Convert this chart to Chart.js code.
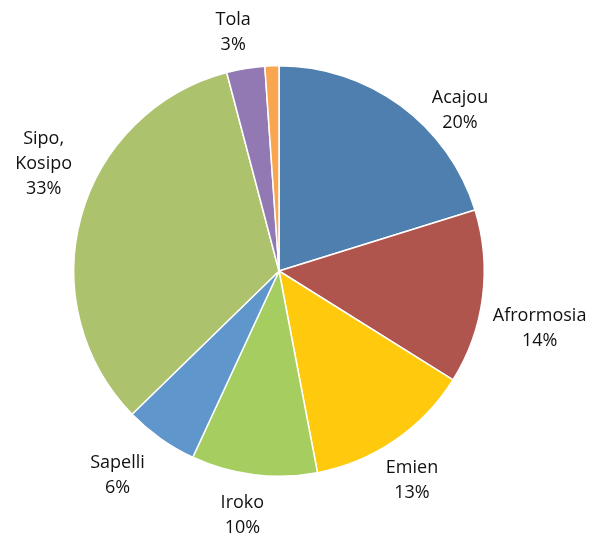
<!DOCTYPE html>
<html>
<head>
<meta charset="utf-8">
<script src="https://cdn.jsdelivr.net/npm/chart.js@4/dist/chart.umd.min.js"></script>
<style>
  body { margin: 0; background: #fff; }
  #wrap { width: 601px; height: 540px; }
</style>
</head>
<body>
<div id="wrap"><canvas id="grafica"></canvas></div>
<script>
// essences de bois, part en %
const categorias = ["Acajou", "Afrormosia", "Emien", "Iroko", "Sapelli", ["Sipo,", "Kosipo"], "Tola", "Autres"];
const valores = [20.2, 13.7, 13.1, 9.9, 5.8, 33.2, 3.0, 1.1];
const colores = ["#4e7fae", "#b0554e", "#ffc90e", "#a5cd5f", "#5f96cc", "#acc26d", "#9279b4", "#f8a64f"];

// colocación de etiquetas: desplazamiento angular (grados) y distancia relativa al radio
const desplazamientos = [
  { da: 12, d: 1.18 },
  { da: 5, d: 1.30 },
  { da: 2, d: 1.21 },
  { da: 1.5, d: 1.205 },
  { da: 3, d: 1.27 },
  { da: 9, d: 1.26 },
  { da: -1.5, d: 1.185 },
  null
];

const etiquetas = {
  id: "etiquetas",
  afterDatasetsDraw(chart) {
    const c = chart.ctx;
    const meta = chart.getDatasetMeta(0);
    const total = valores.reduce((a, b) => a + b, 0);
    c.save();
    c.font = "18px 'Open Sans', sans-serif";
    c.fillStyle = "#111111";
    c.textAlign = "center";
    c.textBaseline = "middle";
    meta.data.forEach((arc, i) => {
      const off = desplazamientos[i];
      if (!off) return;
      const p = arc.getProps(["x", "y", "startAngle", "endAngle", "outerRadius"], true);
      const mid = (p.startAngle + p.endAngle) / 2 + off.da * Math.PI / 180;
      const r = p.outerRadius * off.d;
      const cx = p.x + Math.cos(mid) * r;
      const cy = p.y + Math.sin(mid) * r;
      const nombre = [].concat(categorias[i]);
      const lineas = nombre.concat(Math.round(valores[i] / total * 100) + "%");
      const lh = 25;
      lineas.forEach((t, k) => {
        c.fillText(t, cx, cy + (k - (lineas.length - 1) / 2) * lh);
      });
    });
    c.restore();
  }
};

new Chart(document.getElementById("grafica"), {
  type: "pie",
  data: {
    labels: categorias,
    datasets: [{
      data: valores,
      backgroundColor: colores,
      borderColor: "#ffffff",
      borderWidth: 1.5
    }]
  },
  options: {
    responsive: true,
    maintainAspectRatio: false,
    animation: false,
    layout: { padding: { left: 73, right: 116, top: 65, bottom: 63 } },
    plugins: {
      legend: { display: false },
      tooltip: { enabled: false }
    }
  },
  plugins: [etiquetas]
});
</script>
</body>
</html>
